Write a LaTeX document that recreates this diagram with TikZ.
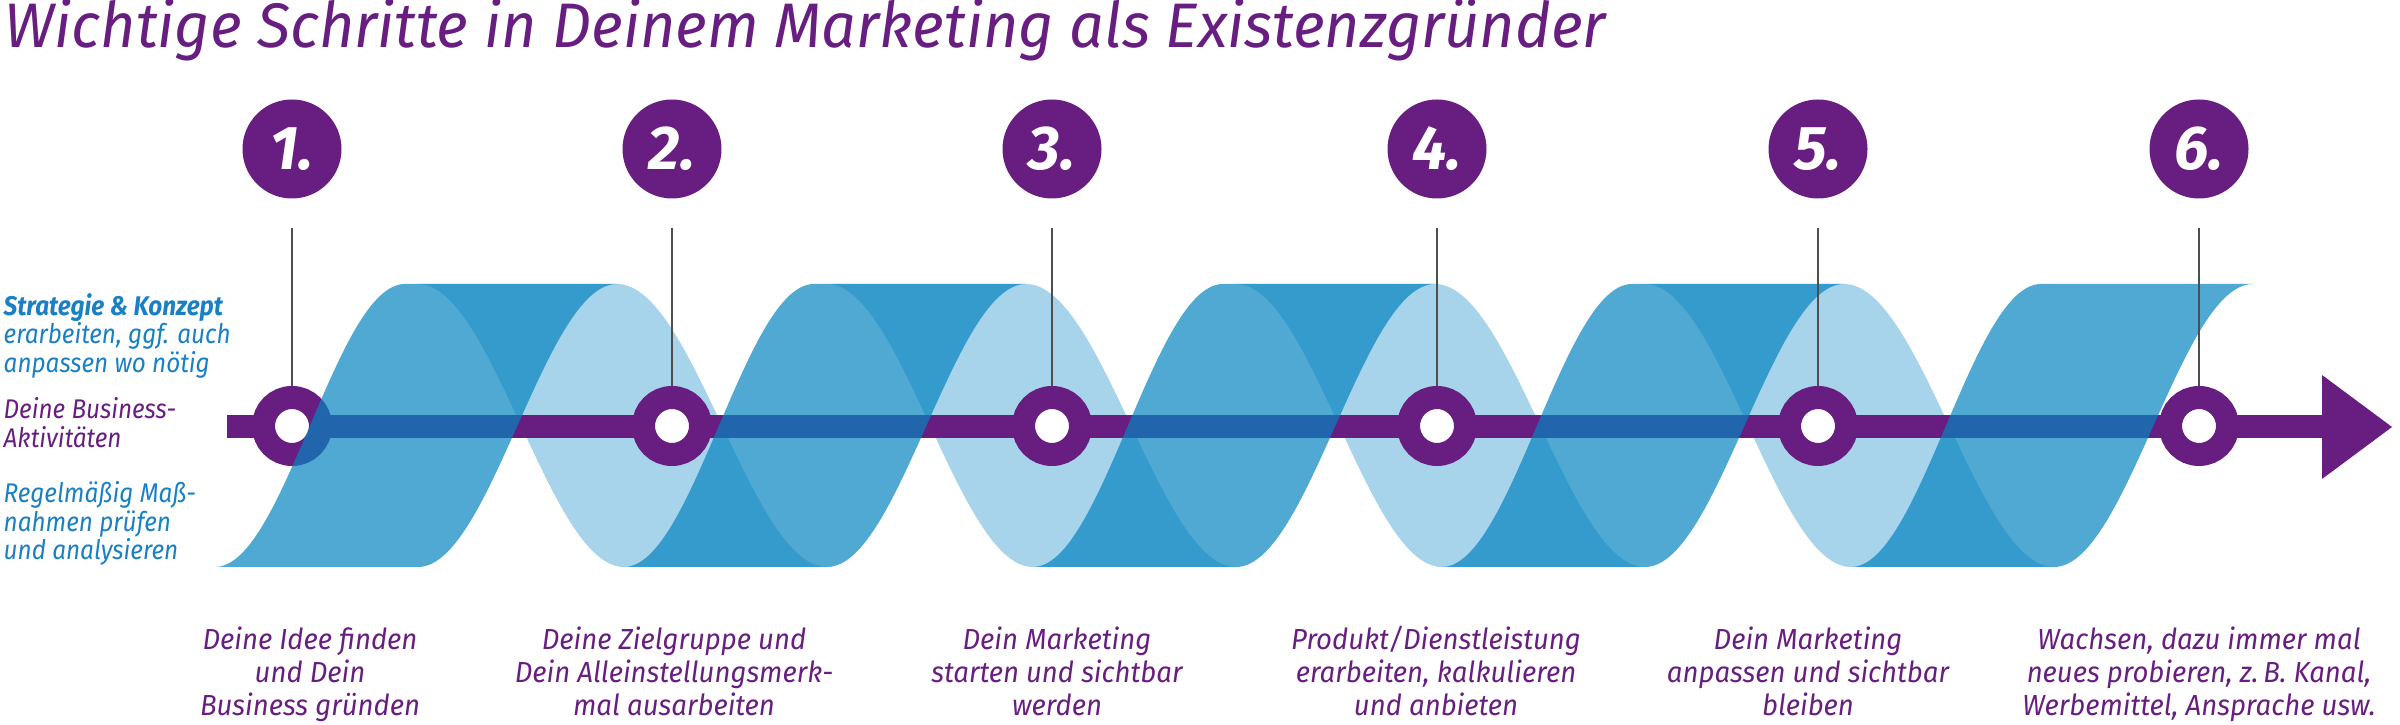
\documentclass[tikz,border=0pt]{standalone}
\usepackage{fontspec}
\setmainfont{Fira Sans}
\newfontfamily\headfont{Fira Sans}[FakeStretch=0.97]
\newfontfamily\sidefont{Fira Sans}[FakeStretch=0.9]
\newfontfamily\stepfont{Fira Sans}[FakeStretch=0.95]
\usepackage{xcolor}
\usepackage{tikz}
\usetikzlibrary{arrows.meta}
\definecolor{lila}{HTML}{681E80}
\definecolor{bandfront}{HTML}{0484C0}
\definecolor{bandback}{HTML}{A7D4EA}
\definecolor{sideblue}{HTML}{1A80C4}
\definecolor{stemgray}{HTML}{4E4E4E}

\begin{document}
\begin{tikzpicture}[
  x=0.1mm, y=-0.1mm,
  num/.style={circle, fill=lila, minimum size=9.9mm, inner sep=0pt, text=white, font=\fontsize{17.6}{20}\selectfont\bfseries\itshape},
  ring/.style={circle, draw=lila, line width=2.3mm, fill=white, minimum size=5.7mm, inner sep=0pt},
  stem/.style={draw=stemgray, line width=0.25mm, shorten <=2.85mm},
  bar/.style={draw=lila, line width=2.3mm, -{Triangle[length=7mm, width=10.4mm, line width=0pt]}},
  front/.style={fill=bandfront, fill opacity=0.7},
  back/.style={fill=bandback},
  sidetext/.style={align=left, inner sep=0pt, anchor=base west, font=\sidefont\itshape\fontsize{7.68}{8.25}\selectfont},
  steptext/.style={align=center, inner sep=0pt, anchor=base, text=lila, font=\stepfont\itshape\fontsize{8.25}{9.53}\selectfont}]
\useasboundingbox (0,0) rectangle (2400,725);
\node[anchor=base west, inner sep=0pt, text=lila, font=\headfont\itshape\fontsize{17.9}{22}\selectfont] (title) at (4,48) {Wichtige Schritte in Deinem Marketing als Existenzgründer};
\path[back] (418,284) cos (521,425.5) sin (624,567) -- (827,567) cos (722,425.5) sin (617,284) -- cycle;
\path[back] (827,284) cos (930,425.5) sin (1033,567) -- (1236,567) cos (1131,425.5) sin (1026,284) -- cycle;
\path[back] (1236,284) cos (1339,425.5) sin (1442,567) -- (1645,567) cos (1540,425.5) sin (1435,284) -- cycle;
\path[back] (1645,284) cos (1748,425.5) sin (1851,567) -- (2054,567) cos (1949,425.5) sin (1844,284) -- cycle;
\coordinate (barstart) at (227,427);
\coordinate (bartip) at (2392,427);
\draw[bar] (barstart) -- (bartip);
\node[ring] (ring1) at (292,426) {};
\node[ring] (ring2) at (672,426) {};
\node[ring] (ring3) at (1052,426) {};
\node[ring] (ring4) at (1437,426) {};
\node[ring] (ring5) at (1818,426) {};
\node[ring] (ring6) at (2199,426) {};
\path[front] (215,567) cos (310,425.5) sin (405,284) -- (617,284) cos (517.5,425.5) sin (418,567) -- cycle;
\path[front] (624,567) cos (719,425.5) sin (814,284) -- (1026,284) cos (926.5,425.5) sin (827,567) -- cycle;
\path[front] (1033,567) cos (1128,425.5) sin (1223,284) -- (1435,284) cos (1335.5,425.5) sin (1236,567) -- cycle;
\path[front] (1442,567) cos (1537,425.5) sin (1632,284) -- (1844,284) cos (1744.5,425.5) sin (1645,567) -- cycle;
\path[front] (1851,567) cos (1946,425.5) sin (2041,284) -- (2253,284) cos (2153.5,425.5) sin (2054,567) -- cycle;
\node[num] (num1) at (292,149) {1.};
\node[num] (num2) at (672,149) {2.};
\node[num] (num3) at (1052,149) {3.};
\node[num] (num4) at (1437,149) {4.};
\node[num] (num5) at (1818,149) {5.};
\node[num] (num6) at (2199,149) {6.};
\draw[stem] (num1) -- (ring1);
\draw[stem] (num2) -- (ring2);
\draw[stem] (num3) -- (ring3);
\draw[stem] (num4) -- (ring4);
\draw[stem] (num5) -- (ring5);
\draw[stem] (num6) -- (ring6);
\node[sidetext, text=sideblue] (strategy) at (3,373) {\textbf{Strategie \& Konzept}\\erarbeiten, ggf. auch\\anpassen wo nötig};
\node[sidetext, text=lila] (business) at (3,448) {Deine Business-\\Aktivitäten};
\node[sidetext, text=sideblue] (review) at (3,560) {Regelmäßig Maß-\\nahmen prüfen\\und analysieren};
\node[steptext] (txt1) at (310,716) {Deine Idee finden\\und Dein\\Business gründen};
\node[steptext] (txt2) at (674,716) {Deine Zielgruppe und\\Dein Alleinstellungsmerk-\\mal ausarbeiten};
\node[steptext] (txt3) at (1057,716) {Dein Marketing\\starten und sichtbar\\werden};
\node[steptext] (txt4) at (1436,716) {Produkt/Dienstleistung\\erarbeiten, kalkulieren\\und anbieten};
\node[steptext] (txt5) at (1808,716) {Dein Marketing\\anpassen und sichtbar\\bleiben};
\node[steptext] (txt6) at (2199,716) {Wachsen, dazu immer mal\\neues probieren, z.\,B. Kanal,\\Werbemittel, Ansprache usw.};
\end{tikzpicture}
\end{document}
